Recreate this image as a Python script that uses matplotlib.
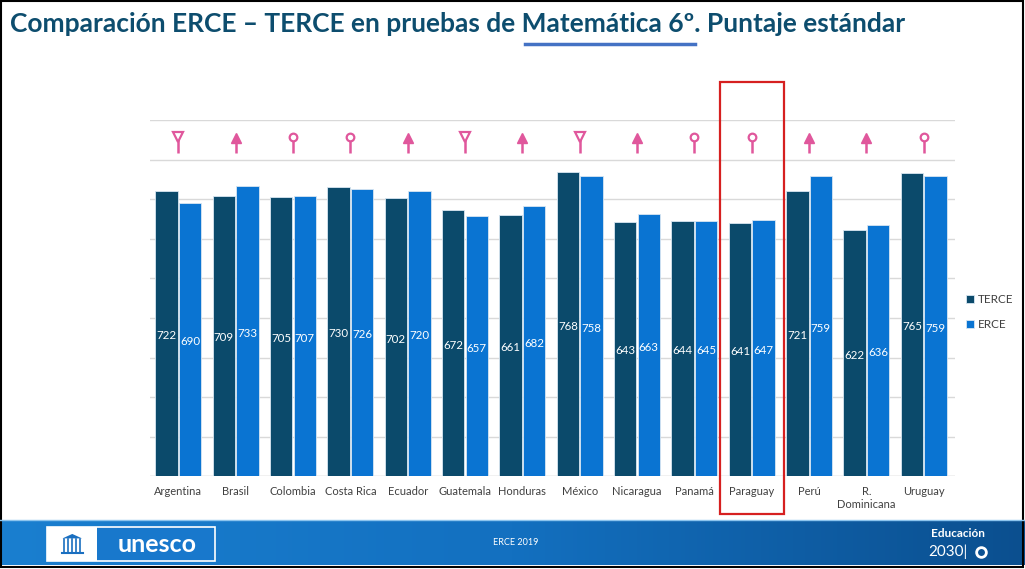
import matplotlib.pyplot as plt
import matplotlib.patches as patches
from matplotlib.colors import LinearSegmentedColormap
import numpy as np

# datos
paises = ['Argentina', 'Brasil', 'Colombia', 'Costa Rica', 'Ecuador', 'Guatemala', 'Honduras',
          'México', 'Nicaragua', 'Panamá', 'Paraguay', 'Perú', 'R.\nDominicana', 'Uruguay']
terce = [722, 709, 705, 730, 702, 672, 661, 768, 643, 644, 641, 721, 622, 765]
erce = [690, 733, 707, 726, 720, 657, 682, 758, 663, 645, 647, 759, 636, 759]
# tendencia: 'baja', 'sube', 'igual'
tendencia = ['baja', 'sube', 'igual', 'igual', 'sube', 'baja', 'sube',
             'baja', 'sube', 'igual', 'igual', 'sube', 'sube', 'igual']
destacado = 'Paraguay'

plt.rcParams['font.family'] = ['Lato', 'DejaVu Sans']

c_terce = '#0b4a6b'
c_erce = '#0a74d2'
rosa = '#e0579c'
titulo_c = '#0d4d6e'

fig = plt.figure(figsize=(10.25, 5.69), dpi=100)
ax = fig.add_axes([0.146, 0.163, 0.786, 0.626])

x = np.arange(len(paises))
w = 0.39
b1 = ax.bar(x - w / 2 - 0.01, terce, w, color=c_terce, edgecolor='#d8e6f2', linewidth=0.6, label='TERCE', zorder=3)
b2 = ax.bar(x + w / 2 + 0.01, erce, w, color=c_erce, edgecolor='#d8e6f2', linewidth=0.6, label='ERCE', zorder=3)

for barras in (b1, b2):
    for r in barras:
        h = r.get_height()
        ax.text(r.get_x() + r.get_width() / 2, h / 2 - 5, str(int(h)), ha='center', va='center',
                color='white', fontsize=8.3, zorder=4)

# simbolos de tendencia
for i, t in enumerate(tendencia):
    ax.plot([i, i], [818, 852], color=rosa, lw=1.8, zorder=4, solid_capstyle='butt')
    if t == 'sube':
        ax.plot(i, 854, marker='^', ms=6.5, color=rosa, zorder=5)
    elif t == 'igual':
        ax.plot(i, 857, marker='o', ms=5.5, mfc='white', mec=rosa, mew=1.6, zorder=5)
    else:
        ax.plot(i, 856, marker='v', ms=7, mfc='white', mec=rosa, mew=1.6, zorder=5)

ax.set_xlim(-0.5, 13.55)
ax.set_ylim(0, 900)
ax.set_yticks(np.arange(0, 901, 100))
ax.yaxis.grid(True, color='#d9d9d9', lw=1, zorder=0)
ax.tick_params(axis='y', left=False, labelleft=False)
ax.tick_params(axis='x', length=0, pad=7, labelsize=8, labelcolor='#404040')
ax.set_xticks(x)
ax.set_xticklabels(paises)
for s in ax.spines.values():
    s.set_visible(False)
ax.axhline(0, color='#d9d9d9', lw=1, zorder=2)

# recuadro rojo
k = paises.index(destacado)
ax.add_patch(patches.Rectangle((k - 0.56, -96), 1.12, 1092, fill=False, ec='#d62020', lw=1.6,
                               clip_on=False, zorder=6))

ax.legend(loc='center left', bbox_to_anchor=(1.0, 0.46), frameon=False, fontsize=8.5,
          handlelength=0.7, handleheight=0.7, handletextpad=0.3, labelspacing=1.2,
          labelcolor='#404040')

# titulo
pre = 'Comparación ERCE – TERCE en pruebas de '
sub = 'Matemática 6º'
ty = 0.958
titulo = fig.text(0.010, ty, pre + sub + '. Puntaje estándar',
                  fontsize=19, fontweight='bold', color=titulo_c, va='center', ha='left')
fig.canvas.draw()
rend = fig.canvas.get_renderer()
tmp = fig.text(0.010, ty, pre, fontsize=19, fontweight='bold', va='center', ha='left')
x0 = tmp.get_window_extent(rend).x1
tmp.set_text(pre + sub)
x1 = tmp.get_window_extent(rend).x1
tmp.remove()
W = fig.bbox.width
fig.add_artist(plt.Line2D([x0 / W + 0.003, x1 / W], [0.922, 0.922], color='#4472c4', lw=2.5))

# banda inferior
bx = fig.add_axes([0, 0.007, 1, 0.078])
grad = np.linspace(0, 1, 256).reshape(1, -1)
cm = LinearSegmentedColormap.from_list('b', ['#1a7fd0', '#1370c0', '#0b4f8f'])
bx.imshow(grad, aspect='auto', cmap=cm, extent=(0, 1, 0, 1))
bx.set_xlim(0, 1)
bx.set_ylim(0, 1)
bx.axis('off')
bx.add_patch(patches.Rectangle((0.046, 0.1), 0.164, 0.76, fc='#1878cc', ec='white', lw=1.2))
bx.add_patch(patches.Rectangle((0.046, 0.1), 0.049, 0.76, fc='white', ec='none'))
# icono templo
bx.add_patch(patches.Polygon([[0.061, 0.6], [0.0705, 0.7], [0.080, 0.6]], closed=True, fc='#1a6fc0'))
for cx in np.linspace(0.0625, 0.0785, 5):
    bx.plot([cx, cx], [0.3, 0.58], color='#1a6fc0', lw=1.2)
bx.plot([0.060, 0.081], [0.28, 0.28], color='#1a6fc0', lw=1.5)
bx.text(0.153, 0.47, 'unesco', fontsize=18, fontweight='bold', color='white', va='center', ha='center')
bx.text(0.503, 0.5, 'ERCE 2019', fontsize=6.5, color='white', va='center', ha='center')
bx.text(0.935, 0.7, 'Educación', fontsize=8.5, fontweight='bold', color='white', va='center', ha='center')
bx.text(0.925, 0.3, '2030|', fontsize=11, color='white', va='center', ha='center')
bx.plot(0.957, 0.3, marker='o', ms=7, mfc='none', mec='white', mew=2)

fig.add_artist(plt.Line2D([0, 1], [0.086, 0.086], color='#8cc4ee', lw=1))
fig.add_artist(patches.Rectangle((0.001, 0.003), 0.997, 0.995, fill=False, ec='black', lw=1.5,
                                 transform=fig.transFigure))

fig.savefig('out.png', dpi=100)
